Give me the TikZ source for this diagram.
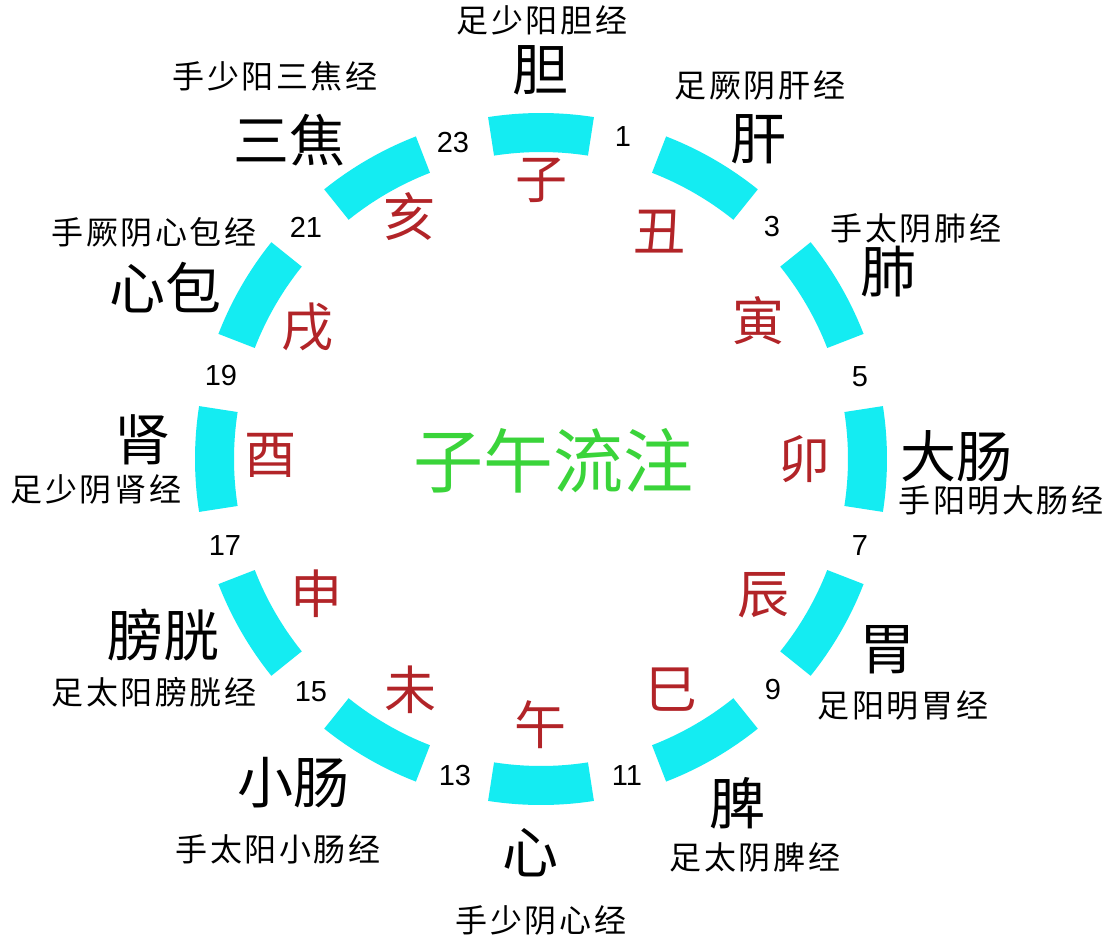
\documentclass[tikz,border=0pt]{standalone}
\usepackage{fontspec}
\newfontfamily\cjk{Noto Sans CJK SC}
\newfontfamily\cjkwide[LetterSpace=8]{Noto Sans CJK SC}
\newfontfamily\numfont{Liberation Sans}
\definecolor{band}{RGB}{20,236,242}
\definecolor{branch}{RGB}{178,36,40}
\definecolor{titlegreen}{RGB}{58,212,58}
\begin{document}
\begin{tikzpicture}[x=1pt,y=-1pt,
  organ/.style={font=\cjk\fontsize{56}{56}\selectfont, inner sep=0pt},
  meridian/.style={font=\cjkwide\fontsize{32}{32}\selectfont, inner sep=0pt},
  br/.style={font=\cjk\fontsize{52}{52}\selectfont, text=branch, inner sep=0pt},
  hr/.style={font=\numfont\fontsize{29}{29}\selectfont, inner sep=0pt},
  seg/.style={fill=band}]
\useasboundingbox (0,0) rectangle (1112,942);
\fill[white] (0,0) rectangle (1112,942);
\coordinate (C) at (541,459);
\foreach \k in {0,...,11}{
  \pgfmathsetmacro\m{30*\k-90}
  \pgfmathsetmacro\ma{\m-8.8}
  \pgfmathsetmacro\mb{\m+8.8}
  \fill[seg] ([shift={(\ma:346)}]C) arc[start angle=\ma, end angle=\mb, radius=346]
    -- ([shift={(\mb:307)}]C) arc[start angle=\mb, end angle=\ma, radius=307] -- cycle;
}
% centre title
\node[font=\cjk\fontsize{70}{70}\selectfont, text=titlegreen, inner sep=0pt] (title) at (553,461) {子午流注};
% branches
\node[br] (zi)   at (541,180) {子};
\node[br] (chou) at (659,232) {丑};
\node[br] (yin)  at (758,321) {寅};
\node[br] (mao)  at (804,459) {卯};
\node[br] (chen) at (763,595) {辰};
\node[br] (si)   at (671,690) {巳};
\node[br] (wu)   at (540,725) {午};
\node[br] (wei)  at (410,690) {未};
\node[br] (shen) at (316,594) {申};
\node[br] (you)  at (270,455) {酉};
\node[br] (xu)   at (307,327) {戌};
\node[br] (hai)  at (409,217) {亥};
% hours
\node[hr] (h1)  at (623,137) {1};
\node[hr] (h3)  at (772,227) {3};
\node[hr] (h5)  at (860,377) {5};
\node[hr] (h7)  at (860,546) {7};
\node[hr] (h9)  at (773,690) {9};
\node[hr] (h11) at (627,776) {11};
\node[hr] (h13) at (455,776) {13};
\node[hr] (h15) at (311,692) {15};
\node[hr] (h17) at (225,546) {17};
\node[hr] (h19) at (221,376) {19};
\node[hr] (h21) at (306,227) {21};
\node[hr] (h23) at (453,143) {23};
% organs
\node[organ] (dan)    at (540,70)  {胆};
\node[organ] (gan)    at (758,139) {肝};
\node[organ] (fei)    at (888,272) {肺};
\node[organ] (dachang) at (956,456) {大肠};
\node[organ] (weio)   at (887,650) {胃};
\node[organ] (pi)     at (737,803) {脾};
\node[organ] (xin)    at (530,853) {心};
\node[organ] (xiaochang) at (293,783) {小肠};
\node[organ] (pangguang) at (163,635) {膀胱};
\node[organ] (shenz)  at (142,440) {肾};
\node[organ] (xinbao) at (165,288) {心包};
\node[organ] (sanjiao) at (289,140) {三焦};
% meridians
\node[meridian] (m1)  at (542,20)  {足少阳胆经};
\node[meridian] (m2)  at (760,85)  {足厥阴肝经};
\node[meridian] (m3)  at (916,228) {手太阴肺经};
\node[meridian] (m4)  at (1001,500) {手阳明大肠经};
\node[meridian] (m5)  at (903,705) {足阳明胃经};
\node[meridian] (m6)  at (755,857) {足太阴脾经};
\node[meridian] (m7)  at (541,920) {手少阴心经};
\node[meridian] (m8)  at (278,849) {手太阳小肠经};
\node[meridian] (m9)  at (154,692) {足太阳膀胱经};
\node[meridian] (m10) at (96,489)  {足少阴肾经};
\node[meridian] (m11) at (154,232) {手厥阴心包经};
\node[meridian] (m12) at (275,76)  {手少阳三焦经};
\end{tikzpicture}
\end{document}
